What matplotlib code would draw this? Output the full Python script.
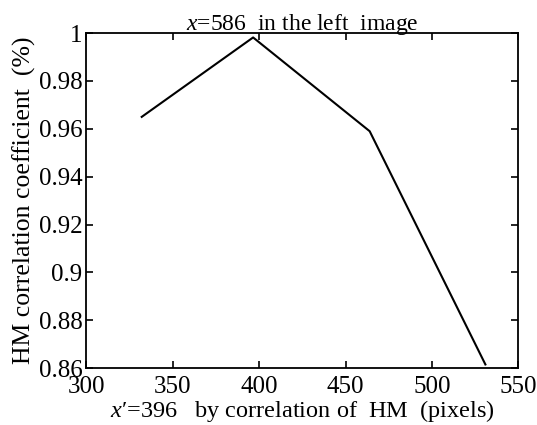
import matplotlib
matplotlib.use("Agg")
import matplotlib.pyplot as plt

x_vals = [332, 396.5, 464, 531]
y_vals = [0.9650, 0.9982, 0.9590, 0.8615]
x_ticks = [300, 350, 400, 450, 500, 550]
y_ticks = [0.86, 0.88, 0.9, 0.92, 0.94, 0.96, 0.98, 1.0]
y_tick_labels = ["0.86", "0.88", "0.9", "0.92", "0.94", "0.96", "0.98", "1"]

plt.rcParams['font.family'] = ['Liberation Serif', 'DejaVu Serif']
plt.rcParams['mathtext.fontset'] = 'custom'
plt.rcParams['mathtext.rm'] = 'Liberation Serif'
plt.rcParams['mathtext.it'] = 'Liberation Serif:italic'

fig = plt.figure(figsize=(5.37, 4.25), dpi=100)
ax = fig.add_axes([0.161, 0.134, 0.804, 0.788])
ax.plot(x_vals, y_vals, color='black', linewidth=1.5)
ax.set_xlim(300, 550)
ax.set_ylim(0.86, 1.0)
ax.set_xticks(x_ticks)
ax.set_xticklabels([str(t) for t in x_ticks])
ax.set_yticks(y_ticks)
ax.set_yticklabels(y_tick_labels)
ax.tick_params(direction='in', top=True, right=True, length=5, width=1.2,
               labelsize=18)
ax.tick_params(axis='x', pad=6)
ax.tick_params(axis='y', pad=3)
for s in ax.spines.values():
    s.set_linewidth(1.3)
ax.set_title("$x$=586  in the left  image", fontsize=17, pad=2)
ax.set_xlabel("$x$\u2032=396   by correlation of  HM  (pixels)", fontsize=17.5, labelpad=0)
ax.set_ylabel("HM correlation coefficient  (%)", fontsize=18.5, labelpad=2)
fig.savefig("out.png", dpi=100)
